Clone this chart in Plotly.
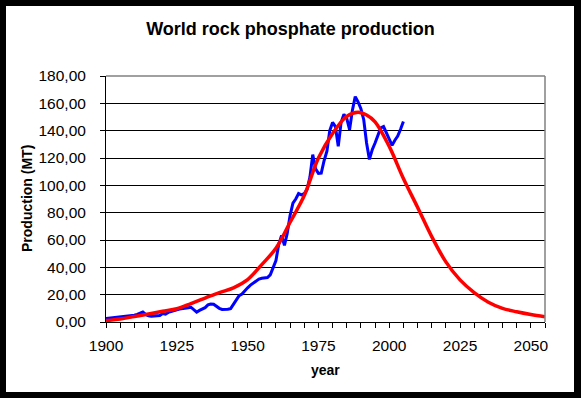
import plotly.graph_objects as go

# Actual production (blue)
prod_years = list(range(1900, 2006))
prod_values = [
    2.6, 2.8, 3.0, 3.2, 3.4, 3.6, 3.8, 4.0, 4.3, 4.6,        # 1900-1909
    5.0, 5.6, 6.5, 7.3, 5.5, 4.6, 4.3, 4.5, 4.4, 4.8,        # 1910-1919
    6.2, 5.8, 7.0, 7.8, 8.6, 9.0, 9.5, 10.0, 10.4, 10.5,     # 1920-1929
    10.8, 9.0, 7.2, 8.5, 9.5, 10.5, 12.5, 13.2, 13.0, 11.4,  # 1930-1939
    10.0, 9.2, 9.0, 9.3, 9.8, 13.0, 17.0, 19.3, 20.5, 23.0,  # 1940-1949
    25.0, 27.0, 28.5, 30.0, 31.4, 32.0, 32.0, 32.5, 34.5, 40.5,  # 1950-1959
    45.0, 57.0, 63.4, 56.0, 65.0, 78.0, 87.0, 90.0, 94.0, 93.0,  # 1960-1969
    94.0, 97.0, 106.0, 122.5, 112.0, 108.8, 109.0, 118.0, 125.0, 140.0,  # 1970-1979
    146.0, 143.0, 128.6, 146.0, 152.0, 149.0, 140.7, 155.0, 164.9, 161.0,  # 1980-1989
    156.0, 148.0, 131.0, 119.0, 126.0, 131.0, 136.0, 142.0, 143.0, 138.3,  # 1990-1999
    134.0, 129.3, 133.0, 136.0, 141.0, 146.7,                              # 2000-2005
]

# Fitted curve (red)
fit_years = [1900, 1905, 1910, 1915, 1920, 1925, 1930, 1935, 1940, 1945,
             1950, 1955, 1960, 1965, 1970, 1975, 1980, 1985, 1989, 1992,
             1995, 2000, 2005, 2010, 2015, 2020, 2025, 2030, 2035, 2040,
             2045, 2050, 2055]
fit_values = [1.0, 2.2, 4.0, 5.8, 7.8, 9.7, 13.5, 17.5, 21.5, 25.0,
              31.0, 42.0, 54.0, 73.0, 92.5, 120.0, 138.0, 150.5, 153.5, 151.5,
              146.5, 128.5, 105.0, 84.0, 62.5, 44.0, 30.8, 21.5, 14.5, 10.0,
              7.5, 5.5, 3.9]

x_tick_vals = [1900, 1925, 1950, 1975, 2000, 2025, 2050]
y_tick_vals = [0, 20, 40, 60, 80, 100, 120, 140, 160, 180]

W, H = 581, 398
L, R, T, B = 106, 36, 76, 76
pw, ph = W - L - R, H - T - B
FR = 6  # black frame thickness in px

fig = go.Figure()
fig.add_trace(go.Scatter(x=prod_years, y=prod_values, mode="lines",
                         line=dict(color="#0000FF", width=3), showlegend=False))
fig.add_trace(go.Scatter(x=fit_years, y=fit_values, mode="lines",
                         line=dict(color="#FF0000", width=3.5, shape="spline", smoothing=1.0),
                         showlegend=False))

font_fam = "Liberation Sans, Arial, sans-serif"

fig.update_layout(
    width=W, height=H,
    margin=dict(l=L, r=R, t=T, b=B),
    paper_bgcolor="black", plot_bgcolor="white",
    separators=",.",
    font=dict(family=font_fam, color="black"),
    title=dict(text="<b>World rock phosphate production</b>",
               x=0.5, xref="container", xanchor="center",
               y=1 - 28.5 / H, yref="container", yanchor="middle",
               font=dict(size=18, family=font_fam, color="black")),
    xaxis=dict(range=[1900, 2055], tickvals=x_tick_vals,
               ticks="outside", ticklen=5, tickwidth=1, tickcolor="black",
               showgrid=False, zeroline=False,
               showline=True, linecolor="black", linewidth=1,
               tickfont=dict(size=15.5, family=font_fam, color="black"),
               ticklabelstandoff=4,
               minor=dict(dtick=5, tick0=1900, ticks="outside", ticklen=5,
                          tickcolor="black", showgrid=False)),
    yaxis=dict(range=[0, 180], tickvals=y_tick_vals, tickformat=".2f",
               ticks="outside", ticklen=5, tickwidth=1, tickcolor="black",
               showgrid=True, gridcolor="black", gridwidth=1,
               zeroline=False,
               showline=True, linecolor="black", linewidth=1,
               tickfont=dict(size=15.5, family=font_fam, color="black"),
               ticklabelstandoff=11),
    annotations=[
        dict(text="<b>year</b>", x=0.5, y=-(370 - (H - B)) / ph,
             xref="paper", yref="paper", xanchor="center", yanchor="middle",
             showarrow=False, font=dict(size=14, family=font_fam, color="black")),
        dict(text="<b>Production (MT)</b>", x=-(L - 27) / pw, y=0.5,
             xref="paper", yref="paper", xanchor="center", yanchor="middle",
             textangle=-90, showarrow=False,
             font=dict(size=14, family=font_fam, color="black")),
    ],
    shapes=[
        # white interior inside the black frame
        dict(type="rect", xref="paper", yref="paper",
             x0=-(L - FR) / pw, x1=1 + (R - FR - 1) / pw,
             y0=-(B - FR) / ph, y1=1 + (T - FR) / ph,
             line=dict(width=0), fillcolor="white", layer="below"),
        # gray top and right edges of plot area
        dict(type="line", xref="paper", yref="paper", x0=0, x1=1, y0=1, y1=1,
             line=dict(color="#808080", width=1.5), layer="above"),
        dict(type="line", xref="paper", yref="paper", x0=1, x1=1, y0=0, y1=1,
             line=dict(color="#808080", width=1.5), layer="above"),
    ],
)

fig.write_html("out.html",
               config={"displayModeBar": False},
               post_script="document.body.style.margin='0';document.body.style.padding='0';")
